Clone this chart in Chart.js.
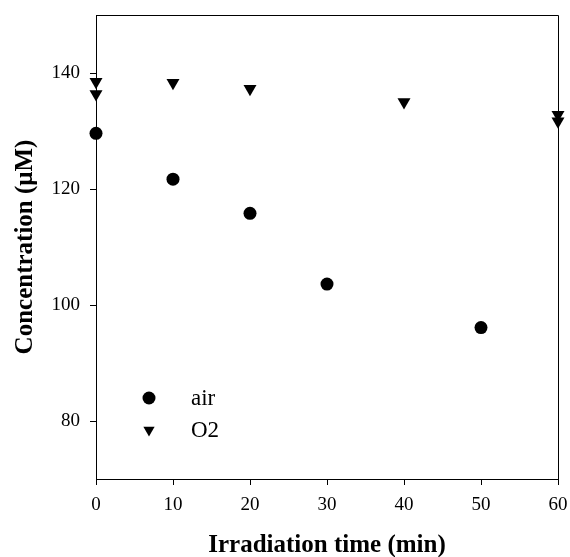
<!DOCTYPE html>
<html>
<head>
<meta charset="utf-8">
<script src="https://cdn.jsdelivr.net/npm/chart.js@4.4.1/dist/chart.umd.min.js"></script>
<style>
  html, body { margin: 0; padding: 0; background: #fff; }
</style>
</head>
<body>
<canvas id="chart" width="570" height="557"></canvas>
<script>
// data
const airTime = [0, 10, 20, 30, 50];
const airConc = [129.6, 121.7, 115.8, 103.6, 96.1];
const o2Time = [0, 0, 10, 20, 40, 60, 60];
const o2Conc = [138.5, 136.4, 138.3, 137.3, 135.0, 132.8, 131.7];
const xTicks = [0, 10, 20, 30, 40, 50, 60];
const yTicks = [80, 100, 120, 140];
const seriesNames = ['air', 'O2'];

const serif = "'Liberation Serif', 'DejaVu Serif', serif";

const toPoints = (xs, ys) => xs.map((x, i) => ({ x: x, y: ys[i] }));

// box round the plot + legend inside it
const framePlugin = {
    id: 'frame',
    afterDraw(chart) {
        const { ctx, chartArea: a } = chart;
        ctx.save();
        ctx.strokeStyle = '#000';
        ctx.lineWidth = 1;
        ctx.beginPath();
        ctx.moveTo(a.left, a.top + 0.5);
        ctx.lineTo(a.right + 0.5, a.top + 0.5);
        ctx.lineTo(a.right + 0.5, a.bottom);
        ctx.stroke();

        // legend
        ctx.font = '23px ' + serif;
        ctx.fillStyle = '#000';
        ctx.textBaseline = 'middle';
        const lx = a.left + 53, tx = a.left + 95;
        let ly = a.top + 383;
        chart.data.datasets.forEach(ds => {
            ctx.beginPath();
            if (ds.pointStyle === 'circle') {
                ctx.arc(lx, ly, 6.5, 0, Math.PI * 2);
            } else {
                const r = 6.5;
                ctx.moveTo(lx, ly + r);
                ctx.lineTo(lx - r * Math.sqrt(3) / 2, ly - r / 2);
                ctx.lineTo(lx + r * Math.sqrt(3) / 2, ly - r / 2);
                ctx.closePath();
            }
            ctx.fill();
            ctx.fillText(ds.label, tx, ly + 1);
            ly += 32;
        });
        ctx.restore();
    }
};

new Chart(document.getElementById('chart'), {
    type: 'scatter',
    data: {
        datasets: [
            {
                label: seriesNames[0],
                data: toPoints(airTime, airConc),
                pointStyle: 'circle',
                pointRadius: 6.5,
                pointHoverRadius: 6.5,
                backgroundColor: '#000',
                borderColor: '#000',
                borderWidth: 0,
                clip: false
            },
            {
                label: seriesNames[1],
                data: toPoints(o2Time, o2Conc),
                pointStyle: 'triangle',
                rotation: 180,
                pointRadius: 7.5,
                pointHoverRadius: 7.5,
                backgroundColor: '#000',
                borderColor: '#000',
                borderWidth: 0,
                clip: false
            }
        ]
    },
    options: {
        responsive: false,
        animation: false,
        devicePixelRatio: 1,
        layout: { padding: { left: 0, right: 12, top: 15, bottom: 0 } },
        plugins: {
            legend: { display: false },
            tooltip: { enabled: false }
        },
        scales: {
            x: {
                type: 'linear',
                min: 0,
                max: 60,
                afterBuildTicks: s => { s.ticks = xTicks.map(v => ({ value: v })); },
                afterFit: s => { s.height = 78; s.paddingLeft = 0; s.paddingRight = 0; },
                grid: { drawOnChartArea: false, tickLength: 6, tickColor: '#000' },
                border: { color: '#000', width: 1 },
                ticks: { color: '#000', padding: 9, maxRotation: 0, font: { family: serif, size: 19 } },
                title: {
                    display: true,
                    text: 'Irradiation time (min)',
                    color: '#000',
                    padding: { top: 0, bottom: -4 },
                    font: { family: serif, size: 25, weight: 'bold' }
                }
            },
            y: {
                type: 'linear',
                min: 70,
                max: 150,
                afterBuildTicks: s => { s.ticks = yTicks.map(v => ({ value: v })); },
                afterFit: s => { s.width = 96; s.paddingTop = 0; s.paddingBottom = 0; },
                grid: { drawOnChartArea: false, tickLength: 6, tickColor: '#000' },
                border: { color: '#000', width: 1 },
                ticks: { color: '#000', padding: 10, font: { family: serif, size: 19 } },
                title: {
                    display: true,
                    text: 'Concentration (\u03bcM)',
                    color: '#000',
                    padding: { top: 11, bottom: 0 },
                    font: { family: serif, size: 25, weight: 'bold' }
                }
            }
        }
    },
    plugins: [framePlugin]
});
</script>
</body>
</html>
